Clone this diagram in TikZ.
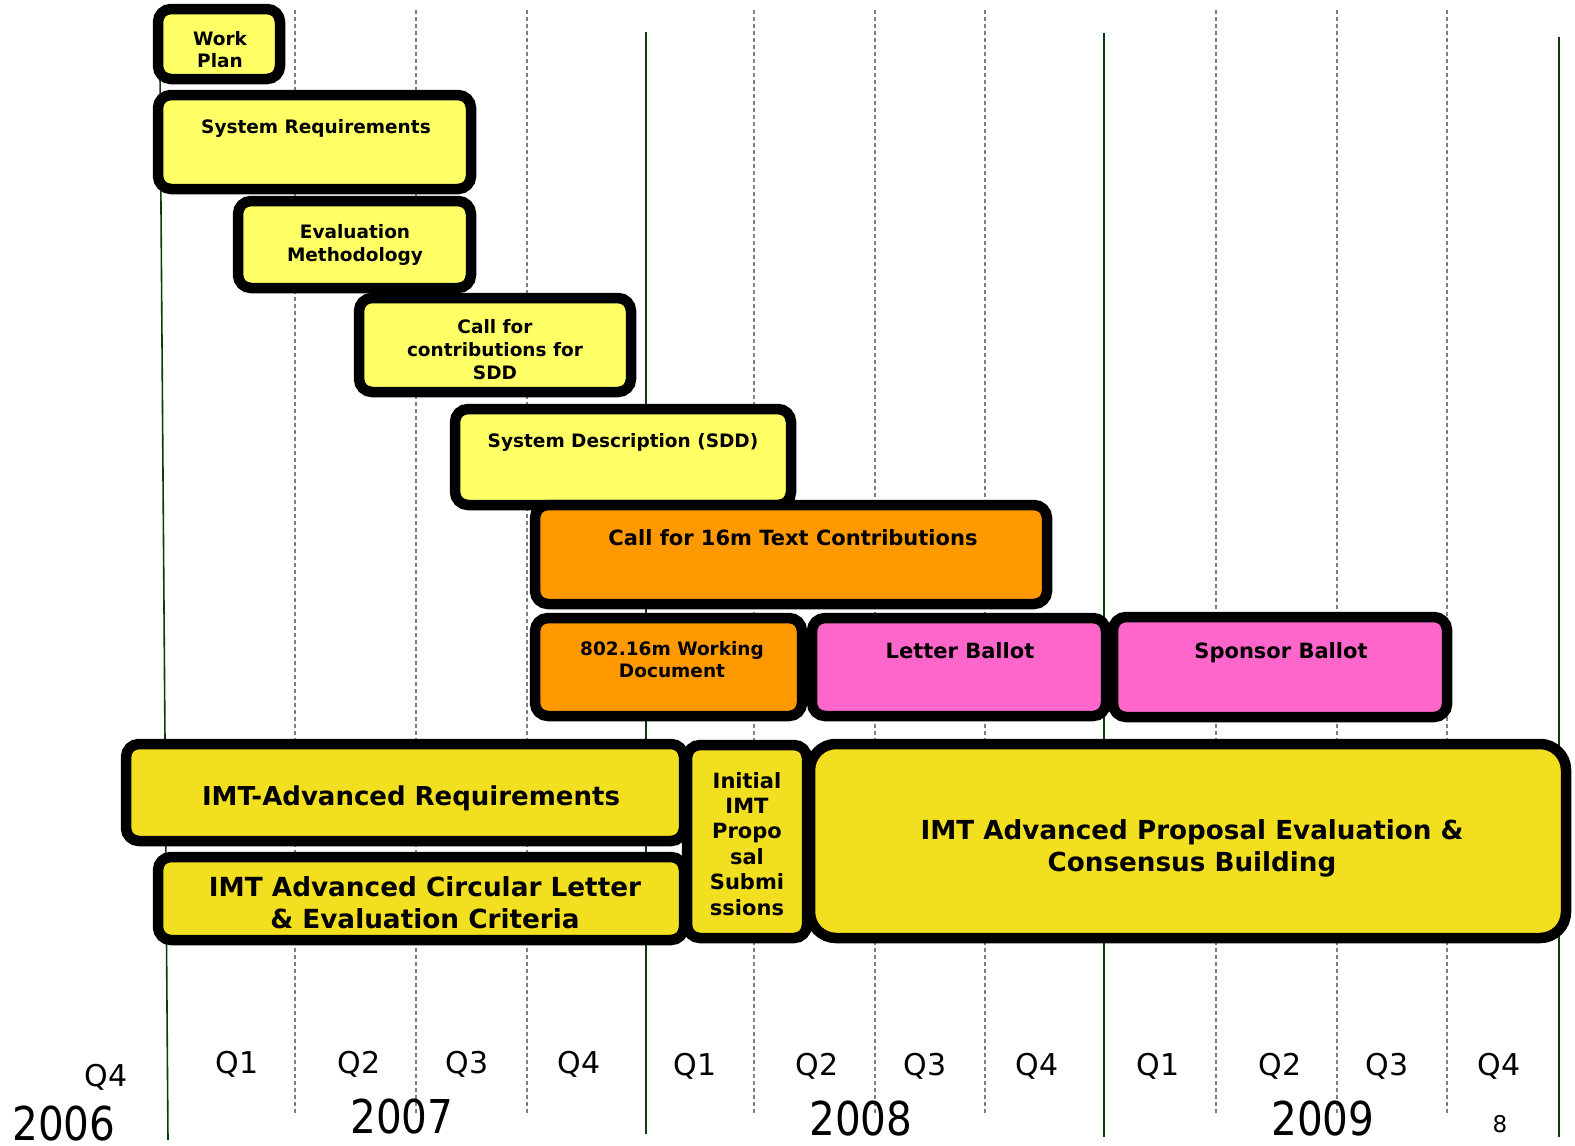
\documentclass[tikz,border=0pt]{standalone}
\usepackage{fontspec}
\setmainfont{DejaVu Sans}
\definecolor{ltyellow}{HTML}{FFFF66}
\definecolor{orangebar}{HTML}{FF9900}
\definecolor{pinkbar}{HTML}{FF66CC}
\definecolor{dkyellow}{HTML}{F2DF1F}
\definecolor{yearline}{HTML}{0B3D0B}
\newcommand\fs[2]{\fontsize{#1}{#2}\selectfont}
\newcommand\bx[6]{\node[bar, fill=#2, minimum width={#5-#3}, minimum height={#6-#4}] (#1) at ({(#3+#5)/2},{(#4+#6)/2}) {};}
\begin{document}
\begin{tikzpicture}[x=1pt,y=-1pt,
  bar/.style={draw=black, line width=10.5pt, rounded corners=13pt, inner sep=0pt, outer sep=0pt},
  lbl/.style={font=\bfseries, align=center, inner sep=0pt, anchor=base, text=black},
  axl/.style={inner sep=0pt, anchor=base, text=black},
  qgrid/.style={draw=black!50, line width=1.1pt, dash pattern=on 4pt off 3pt},
  ygrid/.style={draw=yearline, line width=1.6pt}
]
\useasboundingbox (0,0) rectangle (1575,1146);
% grid
\foreach \xx in {295,416,527,754,875,985,1216,1337,1447}
  \draw[qgrid] (\xx,10) -- (\xx,1114);
\draw[ygrid] (160,75) -- (168,1140);
\draw[ygrid] (646,32) -- (646,1134);
\draw[ygrid] (1104,33) -- (1104,1137);
\draw[ygrid] (1559,37) -- (1559,1137);
% bars
\bx{wp}{ltyellow}{158}{9}{280}{79}
\bx{sr}{ltyellow}{158}{95}{471}{189}
\bx{em}{ltyellow}{238}{201}{471}{288}
\bx{cc}{ltyellow}{359}{298}{631}{392}
\bx{sd}{ltyellow}{455}{409}{791}{505}
\bx{cs}{orangebar}{535}{505}{1047}{604}
\bx{wd}{orangebar}{535}{618}{802}{716}
\bx{lb}{pinkbar}{812}{618}{1106}{716}
\bx{sb}{pinkbar}{1113}{617}{1447}{717}
\bx{ir}{dkyellow}{126}{744}{684}{841}
\bx{cl}{dkyellow}{158}{857}{684}{940}
\bx{ii}{dkyellow}{687}{745}{807}{938}
\node[bar, rounded corners=26pt, fill=dkyellow, minimum width=756, minimum height=194] (pe) at (1188,841) {};
% bar labels (base anchor = baseline of the last line)
\node[lbl, font=\bfseries\fs{18.5}{22}] (twp) at (220,67) {Work\\Plan};
\node[lbl, font=\bfseries\fs{18.5}{22}] (tsr) at (316,133) {System Requirements};
\node[lbl, font=\bfseries\fs{18.5}{23}] (tem) at (355,261) {Evaluation\\Methodology};
\node[lbl, font=\bfseries\fs{18.5}{22.7}] (tcc) at (495,379) {Call for\\contributions for\\SDD};
\node[lbl, font=\bfseries\fs{18.5}{22}] (tsd) at (623,447) {System Description (SDD)};
\node[lbl, font=\bfseries\fs{21}{25}] (tcs) at (793,545) {Call for 16m Text Contributions};
\node[lbl, font=\bfseries\fs{18.5}{22}] (twd) at (672,677) {802.16m Working\\Document};
\node[lbl, font=\bfseries\fs{21}{25}] (tlb) at (960,658) {Letter Ballot};
\node[lbl, font=\bfseries\fs{21}{25}] (tsb) at (1281,658) {Sponsor Ballot};
\node[lbl, font=\bfseries\fs{26}{32}] (tir) at (411,805) {IMT-Advanced Requirements};
\node[lbl, font=\bfseries\fs{26.3}{32}] (tcl) at (425,928) {IMT Advanced Circular Letter\\\& Evaluation Criteria};
\node[lbl, font=\bfseries\fs{21}{25.4}] (tii) at (747,915) {Initial\\IMT\\Propo\\sal\\Submi\\ssions};
\node[lbl, font=\bfseries\fs{26.2}{32}] (tpe) at (1192,871) {IMT Advanced Proposal Evaluation \&\\Consensus Building};
% axis labels
\node[axl, font=\fs{30}{36}] (q06) at (106,1086) {Q4};
\node[axl, font=\fs{46.6}{50}] (y06) at (64,1140) {\scalebox{0.87}[1]{2006}};
\node[axl, font=\fs{30}{36}] (q71) at (237,1073) {Q1};
\node[axl, font=\fs{30}{36}] (q72) at (359,1073) {Q2};
\node[axl, font=\fs{30}{36}] (q73) at (467,1073) {Q3};
\node[axl, font=\fs{30}{36}] (q74) at (579,1073) {Q4};
\node[axl, font=\fs{30}{36}] (q81) at (695,1075) {Q1};
\node[axl, font=\fs{30}{36}] (q82) at (817,1075) {Q2};
\node[axl, font=\fs{30}{36}] (q83) at (925,1075) {Q3};
\node[axl, font=\fs{30}{36}] (q84) at (1037,1075) {Q4};
\node[axl, font=\fs{30}{36}] (q91) at (1158,1075) {Q1};
\node[axl, font=\fs{30}{36}] (q92) at (1280,1075) {Q2};
\node[axl, font=\fs{30}{36}] (q93) at (1387,1075) {Q3};
\node[axl, font=\fs{30}{36}] (q94) at (1499,1075) {Q4};
\node[axl, font=\fs{46.6}{50}] (y07) at (402,1133) {\scalebox{0.87}[1]{2007}};
\node[axl, font=\fs{46.6}{50}] (y08) at (861,1135) {\scalebox{0.87}[1]{2008}};
\node[axl, font=\fs{46.6}{50}] (y09) at (1323,1135) {\scalebox{0.87}[1]{2009}};
\node[axl, font=\fs{23}{26}] (pg) at (1500,1132) {8};
\end{tikzpicture}
\end{document}
